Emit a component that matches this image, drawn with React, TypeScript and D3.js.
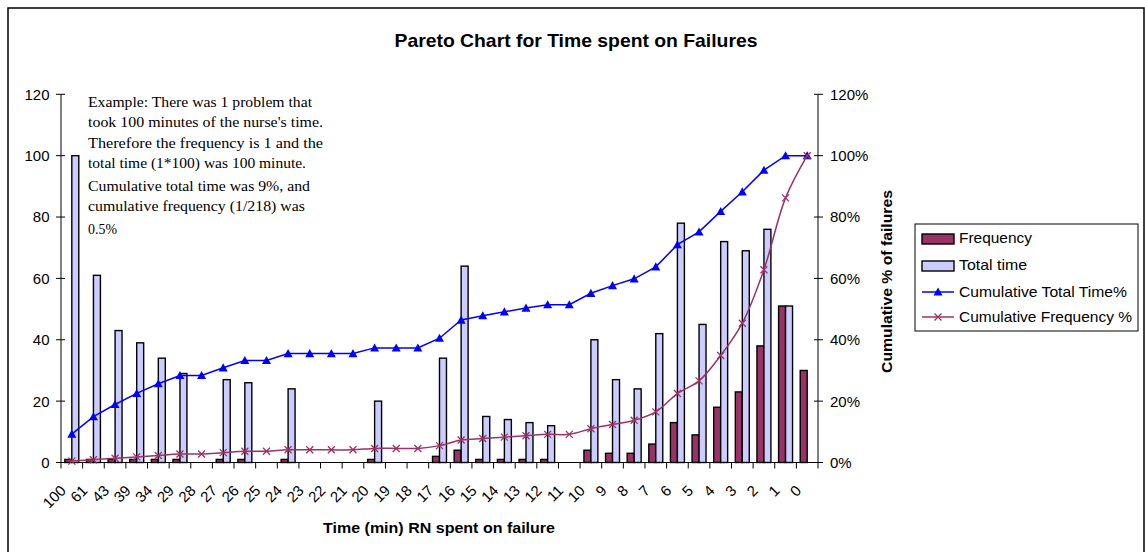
import React from "react";
import * as d3 from "d3";

const categories = ["100","61","43","39","34","29","28","27","26","25","24","23","22","21","20","19","18","17","16","15","14","13","12","11","10","9","8","7","6","5","4","3","2","1","0"];
const frequency = [1,1,1,1,1,1,0,1,1,0,1,0,0,0,1,0,0,2,4,1,1,1,1,0,4,3,3,6,13,9,18,23,38,51,30];
const totalTime = [100,61,43,39,34,29,0,27,26,0,24,0,0,0,20,0,0,34,64,15,14,13,12,0,40,27,24,42,78,45,72,69,76,51,0];
const cumTimePct = [9.27,14.92,18.91,22.52,25.67,28.36,28.36,30.86,33.27,33.27,35.5,35.5,35.5,35.5,37.35,37.35,37.35,40.5,46.43,47.82,49.12,50.32,51.44,51.44,55.14,57.65,59.87,63.76,70.99,75.16,81.84,88.23,95.27,100,100];
const cumFreqPct = [0.46,0.92,1.38,1.83,2.29,2.75,2.75,3.21,3.67,3.67,4.13,4.13,4.13,4.13,4.59,4.59,4.59,5.5,7.34,7.8,8.26,8.72,9.17,9.17,11.01,12.39,13.76,16.51,22.48,26.61,34.86,45.41,62.84,86.24,100];
const leftTicks = [0,20,40,60,80,100,120];
const rightTicks = [0,20,40,60,80,100,120];
const noteLines = [
  "Example: There was 1 problem that",
  "took 100 minutes of the nurse's time.",
  "Therefore the frequency is 1 and the",
  "total time (1*100) was 100 minute.",
  "Cumulative total time was 9%, and",
  "cumulative frequency (1/218) was",
  "0.5%",
];
const noteWidths = [224,235,235,218,222,217,29];
const noteBaselines = [106.5,126.5,148,168,191,211,234];
const legendItems = ["Frequency","Total time","Cumulative Total Time%","Cumulative Frequency %"];
const legendWidths = [73,68,168,173];

const MAROON = "#993366";
const LAV = "#CCCCFF";
const BLUE = "#0000FF";

export default function App() {
  const L = 61, R = 818, Y0 = 462.5, YT = 94.3;
  const x = d3.scaleBand<string>().domain(categories).range([L, R]);
  const bw = x.bandwidth();
  const sub = d3.scaleBand<string>().domain(["f","t"]).range([0, bw]).paddingInner(0).paddingOuter(0.55);
  const y = d3.scaleLinear().domain([0,120]).range([Y0, YT]);
  const y2 = d3.scaleLinear().domain([0,120]).range([Y0, YT]);
  const cx = (i: number) => (x(categories[i]) as number) + bw / 2;

  const lineGen = d3.line<number>().x((_, i) => cx(i)).y(d => y2(d));
  const smoothGen = d3.line<number>().x((_, i) => cx(i)).y(d => y2(d)).curve(d3.curveCatmullRom.alpha(0.5));

  const tri = (px: number, py: number, s = 4.5) => `M${px},${py - s}L${px + s},${py + s * 0.8}L${px - s},${py + s * 0.8}Z`;
  const cross = (px: number, py: number, s = 3.5) => `M${px - s},${py - s}L${px + s},${py + s}M${px - s},${py + s}L${px + s},${py - s}`;

  const boundaries = categories.map(c => x(c) as number).concat([R]);

  return (
    <svg width={1145} height={552} style={{ position: "absolute", left: 0, top: 0, background: "#fff" }} fontFamily="Liberation Sans, Arial, sans-serif">
      <rect x={0} y={0} width={1145} height={552} fill="#fff" />
      <rect x={8} y={8} width={1136} height={560} fill="none" stroke="#000" strokeWidth={1.5} />
      <text x={576} y={46.5} textAnchor="middle" fontSize={19} fontWeight="bold" textLength={363} lengthAdjust="spacingAndGlyphs">Pareto Chart for Time spent on Failures</text>

      {/* bars */}
      {frequency.map((v, i) => v > 0 ? (
        <rect key={"f" + i} x={(x(categories[i]) as number) + (sub("f") as number)} y={y(v)} width={sub.bandwidth()} height={Y0 - y(v)} fill={MAROON} stroke="#000" strokeWidth={1.4} />
      ) : null)}
      {totalTime.map((v, i) => v > 0 ? (
        <rect key={"t" + i} x={(x(categories[i]) as number) + (sub("t") as number)} y={y(v)} width={sub.bandwidth()} height={Y0 - y(v)} fill={LAV} stroke="#000" strokeWidth={1.4} />
      ) : null)}

      {/* axes */}
      <line x1={L} y1={YT} x2={L} y2={Y0} stroke="#000" strokeWidth={1} />
      <line x1={R} y1={YT} x2={R} y2={Y0} stroke="#000" strokeWidth={1} />
      <line x1={L} y1={Y0} x2={R} y2={Y0} stroke="#000" strokeWidth={1} />
      {leftTicks.map(t => (
        <g key={"l" + t}>
          <line x1={L - 5} x2={L + 4} y1={y(t)} y2={y(t)} stroke="#000" />
          <text x={49.5} y={y(t)} dy="0.36em" textAnchor="end" fontSize={15}>{t}</text>
        </g>
      ))}
      {rightTicks.map(t => (
        <g key={"r" + t}>
          <line x1={R - 4} x2={R + 5} y1={y2(t)} y2={y2(t)} stroke="#000" />
          <text x={830} y={y2(t)} dy="0.36em" textAnchor="start" fontSize={15}>{t + "%"}</text>
        </g>
      ))}
      {boundaries.map((b, i) => (
        <line key={"xt" + i} x1={b} x2={b} y1={Y0} y2={Y0 + 6} stroke="#000" />
      ))}
      {categories.map((c, i) => (
        <text key={"xl" + i} transform={`translate(${cx(i) - 5},${Y0 + 29}) rotate(-45)`} textAnchor="end" fontSize={15}>{c}</text>
      ))}

      {/* lines */}
      <path d={lineGen(cumTimePct) || ""} fill="none" stroke={BLUE} strokeWidth={1.5} />
      {cumTimePct.map((v, i) => <path key={"tr" + i} d={tri(cx(i), y2(v))} fill={BLUE} />)}
      <path d={smoothGen(cumFreqPct) || ""} fill="none" stroke={MAROON} strokeWidth={1.5} />
      {cumFreqPct.map((v, i) => <path key={"cr" + i} d={cross(cx(i), y2(v))} stroke={MAROON} strokeWidth={1.3} fill="none" />)}

      {/* axis titles */}
      <text x={439} y={532.5} textAnchor="middle" fontSize={15.5} fontWeight="bold" textLength={232} lengthAdjust="spacingAndGlyphs">Time (min) RN spent on failure</text>
      <text transform="translate(891.5,281.5) rotate(-90)" textAnchor="middle" fontSize={15} fontWeight="bold" textLength={183} lengthAdjust="spacingAndGlyphs">Cumulative % of failures</text>

      {/* note */}
      {noteLines.map((s, i) => (
        <text key={"n" + i} x={88} y={noteBaselines[i]} fontFamily="Liberation Serif, Times New Roman, serif" fontSize={15.5} textLength={noteWidths[i]} lengthAdjust="spacingAndGlyphs">{s}</text>
      ))}

      {/* legend */}
      <rect x={915} y={224} width={223} height={107} fill="#fff" stroke="#000" strokeWidth={1} />
      <rect x={922} y={234} width={32} height={10} fill={MAROON} stroke="#000" strokeWidth={1.4} />
      <rect x={922} y={261} width={32} height={10} fill={LAV} stroke="#000" strokeWidth={1.4} />
      <line x1={922} x2={954} y1={292} y2={292} stroke={BLUE} strokeWidth={1.5} />
      <path d={tri(938, 292)} fill={BLUE} />
      <line x1={922} x2={954} y1={317} y2={317} stroke={MAROON} strokeWidth={1.5} />
      <path d={cross(938, 317)} stroke={MAROON} strokeWidth={1.3} fill="none" />
      {legendItems.map((s, i) => (
        <text key={"lg" + i} x={959} y={[238, 265, 292, 317][i]} dy="0.36em" fontSize={15} textLength={legendWidths[i]} lengthAdjust="spacingAndGlyphs">{s}</text>
      ))}
    </svg>
  );
}
